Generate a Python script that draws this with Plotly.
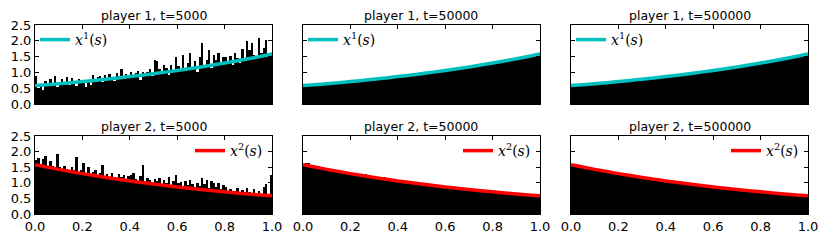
import plotly.graph_objects as go
from plotly.subplots import make_subplots

# histogram heights (density), 100 bins of width 0.01 on [0, 1]
p1_t5000 = [
    0.88, 0.52, 0.62, 0.45, 0.72, 0.58, 0.80, 0.66, 0.90, 0.55,
    0.62, 0.78, 0.70, 0.84, 0.60, 0.82, 0.74, 0.58, 0.80, 0.66,
    0.72, 0.55, 0.70, 0.60, 0.92, 0.76, 0.85, 0.88, 0.70, 0.92,
    0.78, 0.95, 0.85, 0.72, 0.98, 0.90, 1.10, 0.80, 0.96, 0.88,
    1.00, 0.85, 0.98, 1.05, 0.75, 1.02, 0.90, 1.00, 1.12, 0.88,
    1.38, 1.36, 1.10, 1.00, 1.22, 1.15, 0.92, 1.25, 1.08, 1.48,
    1.20, 1.05, 1.55, 1.10, 1.30, 1.62, 1.15, 1.35, 1.02, 1.50,
    1.92, 1.25, 1.40, 1.72, 1.15, 1.55, 1.38, 1.62, 1.30, 1.50,
    1.48, 1.35, 1.52, 1.25, 1.62, 1.45, 1.30, 1.75, 1.40, 2.00,
    1.70, 1.92, 1.55, 1.48, 2.10, 1.60, 1.78, 2.02, 1.50, 1.62,
]
p1_t50000 = [
    0.63, 0.60, 0.62, 0.58, 0.60, 0.63, 0.61, 0.60, 0.64, 0.62,
    0.64, 0.66, 0.63, 0.67, 0.70, 0.66, 0.69, 0.68, 0.73, 0.70,
    0.71, 0.70, 0.74, 0.72, 0.73, 0.77, 0.75, 0.79, 0.76, 0.78,
    0.80, 0.78, 0.83, 0.80, 0.82, 0.85, 0.83, 0.84, 0.87, 0.86,
    0.88, 0.87, 0.91, 0.89, 0.94, 0.92, 0.95, 0.93, 0.98, 0.96,
    0.99, 0.97, 1.00, 1.02, 1.00, 1.05, 1.03, 1.06, 1.04, 1.08,
    1.07, 1.11, 1.09, 1.12, 1.10, 1.15, 1.13, 1.17, 1.16, 1.19,
    1.18, 1.22, 1.20, 1.25, 1.23, 1.26, 1.24, 1.29, 1.27, 1.30,
    1.31, 1.33, 1.32, 1.38, 1.35, 1.39, 1.38, 1.44, 1.41, 1.45,
    1.46, 1.49, 1.47, 1.52, 1.50, 1.55, 1.53, 1.59, 1.56, 1.60,
]
p1_t500000 = [
    0.58, 0.59, 0.60, 0.60, 0.61, 0.61, 0.62, 0.63, 0.63, 0.64,
    0.65, 0.65, 0.66, 0.67, 0.67, 0.68, 0.69, 0.69, 0.70, 0.71,
    0.71, 0.72, 0.73, 0.74, 0.74, 0.75, 0.76, 0.77, 0.77, 0.78,
    0.79, 0.80, 0.81, 0.81, 0.82, 0.83, 0.84, 0.85, 0.86, 0.86,
    0.89, 0.88, 0.89, 0.90, 0.91, 0.92, 0.93, 0.94, 0.95, 0.95,
    0.96, 0.97, 0.98, 0.99, 1.00, 1.01, 1.02, 1.04, 1.05, 1.06,
    1.07, 1.08, 1.09, 1.10, 1.11, 1.12, 1.15, 1.14, 1.15, 1.17,
    1.18, 1.19, 1.20, 1.21, 1.23, 1.24, 1.25, 1.26, 1.28, 1.29,
    1.30, 1.31, 1.33, 1.34, 1.35, 1.37, 1.38, 1.40, 1.41, 1.42,
    1.44, 1.45, 1.49, 1.48, 1.50, 1.51, 1.53, 1.54, 1.58, 1.57,
]
p2_t5000 = [
    1.72, 1.78, 1.60, 1.75, 1.85, 1.48, 1.70, 1.55, 1.40, 1.92,
    1.50, 1.38, 1.55, 1.45, 1.30, 1.52, 1.42, 1.84, 1.35, 1.40,
    1.62, 1.30, 1.52, 1.25, 1.35, 1.40, 1.18, 1.30, 1.57, 1.22,
    1.28, 1.15, 1.30, 1.20, 1.10, 1.28, 1.18, 1.25, 1.05, 1.22,
    1.25, 1.30, 1.12, 1.05, 1.22, 1.57, 1.00, 1.15, 1.10, 0.95,
    1.12, 1.05, 1.15, 0.92, 1.08, 1.00, 1.18, 0.90, 1.05, 1.24,
    0.98, 1.02, 0.88, 1.05, 0.92, 1.10, 0.95, 0.85, 1.00, 0.90,
    1.15, 0.95, 1.10, 0.82, 1.05, 0.98, 0.88, 1.00, 0.80, 0.92,
    0.85, 0.72, 0.80, 0.68, 0.75, 0.82, 0.65, 0.78, 0.70, 0.84,
    0.72, 0.62, 0.80, 0.68, 0.75, 0.65, 0.88, 0.95, 0.60, 1.25,
]
p2_t50000 = [
    1.58, 1.64, 1.63, 1.54, 1.53, 1.50, 1.51, 1.47, 1.48, 1.44,
    1.45, 1.42, 1.44, 1.38, 1.37, 1.38, 1.34, 1.33, 1.35, 1.30,
    1.29, 1.31, 1.27, 1.28, 1.25, 1.23, 1.27, 1.22, 1.23, 1.18,
    1.17, 1.16, 1.14, 1.13, 1.18, 1.10, 1.11, 1.08, 1.09, 1.07,
    1.06, 1.04, 1.03, 1.02, 1.01, 1.05, 0.99, 0.98, 0.97, 0.96,
    0.95, 0.94, 0.94, 0.92, 0.91, 0.90, 0.90, 0.89, 0.88, 0.88,
    0.90, 0.89, 0.88, 0.86, 0.85, 0.82, 0.84, 0.80, 0.82, 0.79,
    0.78, 0.80, 0.77, 0.75, 0.75, 0.74, 0.73, 0.73, 0.72, 0.71,
    0.70, 0.69, 0.72, 0.68, 0.71, 0.70, 0.69, 0.65, 0.66, 0.64,
    0.65, 0.64, 0.62, 0.62, 0.61, 0.60, 0.60, 0.59, 0.59, 0.61,
]
p2_t500000 = [
    1.58, 1.57, 1.56, 1.53, 1.51, 1.50, 1.48, 1.47, 1.45, 1.44,
    1.42, 1.41, 1.40, 1.38, 1.37, 1.35, 1.34, 1.33, 1.31, 1.30,
    1.29, 1.28, 1.26, 1.25, 1.24, 1.22, 1.21, 1.20, 1.19, 1.18,
    1.17, 1.15, 1.14, 1.13, 1.12, 1.11, 1.10, 1.09, 1.08, 1.07,
    1.05, 1.04, 1.03, 1.02, 1.01, 1.00, 0.99, 0.98, 0.97, 0.96,
    0.95, 0.94, 0.93, 0.93, 0.92, 0.91, 0.90, 0.89, 0.88, 0.87,
    0.86, 0.85, 0.85, 0.84, 0.83, 0.82, 0.81, 0.80, 0.80, 0.79,
    0.78, 0.77, 0.77, 0.76, 0.75, 0.74, 0.73, 0.73, 0.72, 0.71,
    0.71, 0.70, 0.69, 0.69, 0.68, 0.67, 0.67, 0.66, 0.65, 0.65,
    0.64, 0.63, 0.63, 0.62, 0.61, 0.61, 0.60, 0.60, 0.59, 0.58,
]

# theoretical densities, read at s = 0, 0.05, ..., 1.0
curve_1 = [0.582, 0.612, 0.643, 0.676, 0.711, 0.747, 0.786, 0.826, 0.868, 0.913, 0.960,
           1.009, 1.060, 1.115, 1.172, 1.232, 1.295, 1.361, 1.431, 1.504, 1.582]
curve_2 = [1.582, 1.504, 1.431, 1.361, 1.295, 1.232, 1.172, 1.115, 1.060, 1.009, 0.960,
           0.913, 0.868, 0.826, 0.786, 0.747, 0.711, 0.676, 0.643, 0.612, 0.582]

times = [5000, 50000, 500000]
hists = [[p1_t5000, p1_t50000, p1_t500000], [p2_t5000, p2_t50000, p2_t500000]]
curves = [curve_1, curve_2]
curve_names = ["<i>x</i><sup>1</sup>(<i>s</i>)", "<i>x</i><sup>2</sup>(<i>s</i>)"]
curve_colors = ["#00BFBF", "#FF0000"]

W, H = 830, 242
cols_px = [(35, 272), (303, 540), (571, 808)]
rows_px = [(25, 104), (136, 214)]

fig = make_subplots(rows=2, cols=3)
tick_font = dict(family="DejaVu Sans", size=13, color="black")
title_font = dict(family="DejaVu Sans", size=12.5, color="black")

annotations = []
n = 0
for r in range(2):
    for c in range(3):
        n += 1
        leg = "legend" if n == 1 else "legend%d" % n
        fig.add_trace(
            go.Bar(y=hists[r][c], x0=0.005, dx=0.01, width=0.01,
                   marker=dict(color="black", line=dict(width=0)),
                   showlegend=False, hoverinfo="skip"),
            row=r + 1, col=c + 1,
        )
        fig.add_trace(
            go.Scatter(y=curves[r], x0=0, dx=0.05, mode="lines",
                       line=dict(color=curve_colors[r], width=3.5, shape="spline"),
                       name=curve_names[r], legend=leg),
            row=r + 1, col=c + 1,
        )
        x0, x1 = cols_px[c]
        y0, y1 = rows_px[r]
        dom_x = [x0 / W, x1 / W]
        dom_y = [1 - y1 / H, 1 - y0 / H]
        sfx = "" if n == 1 else str(n)
        fig.layout["xaxis" + sfx].update(
            domain=dom_x, range=[0, 1], tickvals=[0, 0.2, 0.4, 0.6, 0.8, 1.0],
            ticktext=["0.0", "0.2", "0.4", "0.6", "0.8", "1.0"],
            showticklabels=(r == 1),
        )
        fig.layout["yaxis" + sfx].update(
            domain=dom_y, range=[0, 2.5], tickvals=[0, 0.5, 1.0, 1.5, 2.0, 2.5],
            ticktext=["0.0", "0.5", "1.0", "1.5", "2.0", "2.5"],
            showticklabels=(c == 0),
        )
        annotations.append(dict(
            text="player %d, t=%d" % (r + 1, times[c]),
            x=(dom_x[0] + dom_x[1]) / 2, y=dom_y[1], xref="paper", yref="paper",
            xanchor="center", yanchor="bottom", yshift=0, showarrow=False,
            font=title_font,
        ))
        if r == 0:
            legend_pos = dict(x=x0 / W, xanchor="left")
        else:
            legend_pos = dict(x=(x1 - 4) / W, xanchor="right")
        fig.layout[leg] = dict(
            y=1 - (y0 + 15) / H, yanchor="middle", bgcolor="rgba(0,0,0,0)",
            borderwidth=0, font=dict(family="DejaVu Serif", size=14, color="black"),
            **legend_pos,
        )

axis_style = dict(
    showline=True, linecolor="black", linewidth=1, mirror="ticks",
    ticks="inside", ticklen=4, tickwidth=1, tickcolor="black",
    showgrid=False, zeroline=False, tickfont=tick_font, automargin=False,
)
fig.update_xaxes(**axis_style)
fig.update_yaxes(**axis_style)

fig.update_layout(
    width=W, height=H, template="none",
    margin=dict(l=0, r=0, t=0, b=0, pad=0, autoexpand=False),
    paper_bgcolor="white", plot_bgcolor="white",
    bargap=0, barmode="overlay",
    annotations=annotations, font=tick_font,
)

# drop the default page margin so the figure sits at the window's corner
fig.write_html("out.html", config={"displayModeBar": False},
               post_script="document.body.style.margin = '0';")
